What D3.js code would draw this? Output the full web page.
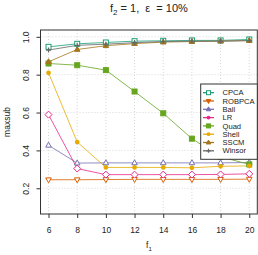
<!DOCTYPE html>
<html>
<head>
<meta charset="utf-8">
<script src="https://cdn.jsdelivr.net/npm/d3@7"></script>
<style>
  body { margin: 0; background: #fff; }
  text { font-family: "Liberation Sans", Arial, sans-serif; fill: #222; white-space: pre; }
</style>
</head>
<body>
<svg width="258" height="255"></svg>
<script>
// x values (f1)
const f1 = [6, 8, 10, 12, 14, 16, 18, 20];

// maxsub per method
const cpca   = [0.947, 0.963, 0.970, 0.977, 0.979, 0.981, 0.981, 0.986];
const robpca = [0.245, 0.245, 0.246, 0.247, 0.247, 0.247, 0.247, 0.248];
const ball   = [0.427, 0.333, 0.334, 0.334, 0.334, 0.334, 0.334, 0.336];
const lr     = [0.589, 0.304, 0.272, 0.272, 0.272, 0.272, 0.273, 0.276];
const quad   = [0.859, 0.850, 0.824, 0.711, 0.596, 0.462, 0.366, 0.326];
const shell  = [0.810, 0.444, 0.310, 0.310, 0.310, 0.308, 0.316, 0.318];
const sscm   = [0.868, 0.933, 0.953, 0.964, 0.972, 0.975, 0.977, 0.980];
const winsor = [0.930, 0.955, 0.961, 0.969, 0.975, 0.977, 0.977, 0.980];

const methods = ['CPCA', 'ROBPCA', 'Ball', 'LR', 'Quad', 'Shell', 'SSCM', 'Winsor'];
const values  = [cpca, robpca, ball, lr, quad, shell, sscm, winsor];
const colors  = ['#1B9E77', '#D95F02', '#7570B3', '#E7298A', '#66A61E', '#E6AB02', '#A6761D', '#666666'];
const shapes  = ['sqOpen', 'triDownOpen', 'triOpen', 'diamondOpen', 'sqFill', 'circleFill', 'triFill', 'plus'];
// legend symbols look filled at that size
const legendShapes = ['sqOpen', 'triDownFill', 'triFill', 'circleFill', 'sqFill', 'circleFill', 'triFill', 'plus'];

const xTicks = [6, 8, 10, 12, 14, 16, 18, 20];
const yTicks = [0.2, 0.4, 0.6, 0.8, 1.0];

const svg = d3.select('svg');

const x = d3.scaleLinear().domain([5.44, 20.56]).range([40.5, 257.3]);
const y = d3.scaleLinear().domain([0.064, 1.036]).range([214, 30]);

// grid
svg.append('g').selectAll('line')
  .data(xTicks).enter().append('line')
  .attr('x1', d => x(d)).attr('x2', d => x(d))
  .attr('y1', 30).attr('y2', 214)
  .attr('stroke', '#d8d8d8').attr('stroke-dasharray', '1,2');
svg.append('g').selectAll('line')
  .data(yTicks).enter().append('line')
  .attr('x1', 40.5).attr('x2', 257.3)
  .attr('y1', d => y(d)).attr('y2', d => y(d))
  .attr('stroke', '#d8d8d8').attr('stroke-dasharray', '1,2');

// axes
const xAxis = svg.append('g')
  .attr('transform', 'translate(0,214)')
  .call(d3.axisBottom(x).tickValues(xTicks).tickSize(4).tickPadding(9).tickFormat(d3.format('d')));
const yAxis = svg.append('g')
  .attr('transform', 'translate(40.5,0)')
  .call(d3.axisLeft(y).tickValues(yTicks).tickSize(4).tickFormat(d3.format('.1f')));
[xAxis, yAxis].forEach(a => {
  a.select('.domain').remove();
  a.selectAll('line').attr('stroke', '#333');
  a.selectAll('text').style('font-size', '8.5px').attr('fill', '#222');
});
yAxis.selectAll('.tick text')
  .attr('x', 0).attr('dy', 0)
  .attr('text-anchor', 'middle')
  .attr('transform', 'translate(-12,0) rotate(-90)');

// markers
function marker(g, shape, color, s) {
  const h = s / 2;
  if (shape === 'sqOpen' || shape === 'sqFill') {
    g.append('rect').attr('x', -h).attr('y', -h).attr('width', s).attr('height', s)
      .attr('fill', shape === 'sqFill' ? color : 'white').attr('stroke', color);
  } else if (shape === 'triOpen' || shape === 'triFill') {
    const r = s * 0.62;
    g.append('path').attr('d', `M0,${-r}L${r * 0.9},${r * 0.6}L${-r * 0.9},${r * 0.6}Z`)
      .attr('fill', shape === 'triFill' ? color : 'white').attr('stroke', color);
  } else if (shape === 'triDownOpen' || shape === 'triDownFill') {
    const r = s * 0.62;
    g.append('path').attr('d', `M0,${r}L${r * 0.9},${-r * 0.6}L${-r * 0.9},${-r * 0.6}Z`)
      .attr('fill', shape === 'triDownFill' ? color : 'white').attr('stroke', color);
  } else if (shape === 'diamondOpen') {
    const r = s * 0.7;
    g.append('path').attr('d', `M0,${-r}L${r},0L0,${r}L${-r},0Z`)
      .attr('fill', 'white').attr('stroke', color);
  } else if (shape === 'circleFill') {
    g.append('circle').attr('r', h * 0.95).attr('fill', color);
  } else if (shape === 'plus') {
    g.append('path').attr('d', `M${-h},0H${h}M0,${-h}V${h}`).attr('stroke', color).attr('stroke-width', 1.2);
  }
}

// lines and points
const line = d3.line().x((d, i) => x(f1[i])).y(d => y(d));
methods.forEach((m, k) => {
  svg.append('path')
    .attr('d', line(values[k]))
    .attr('fill', 'none')
    .attr('stroke', colors[k])
    .attr('stroke-opacity', 0.8)
    .attr('stroke-width', 1);
});
methods.forEach((m, k) => {
  values[k].forEach((v, i) => {
    const g = svg.append('g').attr('transform', `translate(${x(f1[i])},${y(v)})`);
    marker(g, shapes[k], colors[k], 5);
  });
});

// frame
svg.append('rect').attr('x', 40.5).attr('y', 30).attr('width', 216.8).attr('height', 184)
  .attr('fill', 'none').attr('stroke', '#333');

// legend
const lg = svg.append('g');
lg.append('rect').attr('x', 200.7).attr('y', 84).attr('width', 56.6).attr('height', 75.3)
  .attr('fill', 'white').attr('stroke', '#333');
methods.forEach((m, k) => {
  const ly = 92.7 + k * 8.3;
  lg.append('line').attr('x1', 203).attr('x2', 214).attr('y1', ly).attr('y2', ly)
    .attr('stroke', colors[k]).attr('stroke-width', 1.3);
  const g = lg.append('g').attr('transform', `translate(208.5,${ly})`);
  marker(g, legendShapes[k], colors[k], 4);
  lg.append('text').attr('x', 222.5).attr('y', ly).attr('dy', '0.35em')
    .style('font-size', '7.6px').text(m);
});

// title
const t = svg.append('text').attr('x', 148.9).attr('y', 12)
  .attr('text-anchor', 'middle').style('font-size', '11px');
t.append('tspan').text('f');
t.append('tspan').attr('dy', 3).style('font-size', '8px').text('2');
t.append('tspan').attr('dy', -3).text(' = 1,  \u03b5  = 10%');

// axis titles
const xl = svg.append('text').attr('x', 148.9).attr('y', 248)
  .attr('text-anchor', 'middle').style('font-size', '8.5px');
xl.append('tspan').text('f');
xl.append('tspan').attr('dy', 2.5).style('font-size', '6px').text('1');

svg.append('text')
  .attr('transform', 'translate(10,122) rotate(-90)')
  .attr('text-anchor', 'middle')
  .style('font-size', '8.5px')
  .text('maxsub');
</script>
</body>
</html>
